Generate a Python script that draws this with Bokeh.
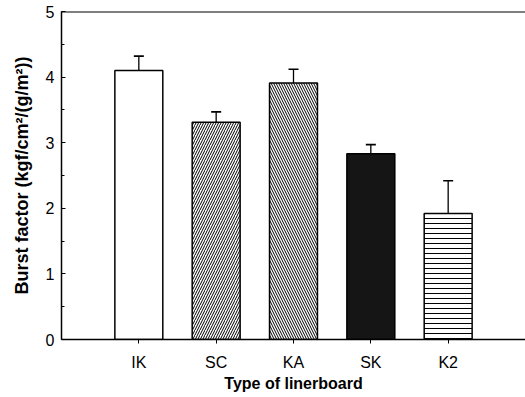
from bokeh.plotting import figure
from bokeh.models import (ColumnDataSource, SingleIntervalTicker,
                          FixedTicker, Range1d, Span)
from bokeh.embed import file_html
from bokeh.resources import INLINE

categories = ["IK", "SC", "KA", "SK", "K2"]
burst = [4.10, 3.31, 3.91, 2.83, 1.92]
errors = [0.22, 0.16, 0.21, 0.14, 0.50]

fills = ["white", "white", "white", "#151515", "white"]
hatches = [" ", "/", "\\", " ", "-"]

xs = list(range(len(categories)))
src = ColumnDataSource(dict(
    x=xs, y=burst,
    upper=[b + e for b, e in zip(burst, errors)],
    fill=fills, hatch=hatches,
))

FONT = "Liberation Sans"
Y_MAX = 5

p = figure(frame_width=464, frame_height=328, output_backend="svg",
           toolbar_location=None, x_range=Range1d(-1, 5), y_range=Range1d(0, Y_MAX),
           min_border_left=61, min_border_right=0, min_border_top=11,
           min_border_bottom=52)
p.outline_line_color = None
p.grid.visible = False
p.background_fill_color = "white"
p.border_fill_color = "white"

# error bars (upper only) drawn as glyphs
p.segment(x0="x", y0="y", x1="x", y1="upper", source=src,
          line_color="black", line_width=1.3)
p.dash(x="x", y="upper", size=10, source=src,
       line_color="black", line_width=1.6)

p.vbar(x="x", top="y", width=0.62, bottom=0, source=src,
       fill_color="fill", line_color="black", line_width=1.5,
       hatch_pattern="hatch", hatch_color="black", hatch_scale=5,
       hatch_weight=1.0)

# top frame line
p.add_layout(Span(location=Y_MAX, dimension="width", line_color="black",
                  line_width=2))

# axes
p.yaxis.ticker = SingleIntervalTicker(interval=1, num_minor_ticks=2)
p.yaxis.major_tick_in = 4
p.yaxis.major_tick_out = 0
p.yaxis.minor_tick_in = 3
p.yaxis.minor_tick_out = 0
p.yaxis.axis_line_width = 1.5
p.yaxis.axis_label = "Burst factor (kgf/cm²/(g/m²))"
p.yaxis.major_label_standoff = 7
p.yaxis.axis_label_standoff = 11

p.xaxis.ticker = FixedTicker(ticks=xs)
p.xaxis.major_label_overrides = {i: c for i, c in zip(xs, categories)}
p.xaxis.major_tick_in = 0
p.xaxis.major_tick_out = 4
p.xaxis.minor_tick_line_color = None
p.xaxis.axis_line_width = 1.5
p.xaxis.axis_label = "Type of linerboard"
p.xaxis.major_label_standoff = 10
p.xaxis.axis_label_standoff = 1

for ax in (p.xaxis, p.yaxis):
    ax.major_label_text_font = FONT
    ax.major_label_text_font_size = "16px"
    ax.major_label_text_color = "black"
    ax.axis_label_text_font = FONT
    ax.axis_label_text_font_style = "bold"
    ax.axis_label_text_color = "black"
    ax.axis_line_color = "black"
    ax.major_tick_line_color = "black"
p.xaxis.axis_label_text_font_size = "16px"
p.yaxis.axis_label_text_font_size = "18px"

open("out.html", "w").write(file_html(p, INLINE))
